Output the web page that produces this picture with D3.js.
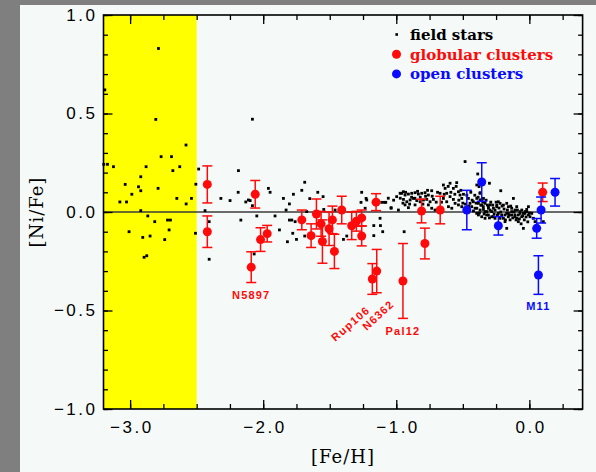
<!DOCTYPE html>
<html>
<head>
<meta charset="utf-8">
<script src="https://cdn.jsdelivr.net/npm/d3@7"></script>
<style>
  html, body { margin: 0; padding: 0; background: #7f7f7f; }
  svg { display: block; }
</style>
</head>
<body>
<svg id="chart" width="596" height="472"></svg>
<script>
// [Fe/H], [Ni/Fe] for individual field stars
const fieldStars = [
  [-3.19,0.62],[-2.787,0.83],[-2.807,0.47],[-2.58,0.34],[-3.17,0.242],[-3.198,0.242],[-3.125,0.23],
  [-2.767,0.281],[-2.689,0.281],[-2.679,0.21],[-2.627,0.23],[-2.88,0.23],[-2.92,0.179],[-3.037,0.14],
  [-2.937,0.128],[-2.92,0.108],[-2.79,0.12],[-2.987,0.09],[-3.077,0.051],[-3.027,0.051],[-2.649,0.069],
  [-2.579,0.041],[-2.539,0.069],[-2.92,0.007],[-2.867,-0.02],[-2.815,-0.049],[-2.719,-0.041],[-2.697,-0.041],
  [-3.008,-0.1],[-2.707,-0.091],[-2.905,-0.129],[-2.85,-0.122],[-2.74,-0.14],[-2.895,-0.23],[-2.875,-0.222],
  [-2.485,0.218],[-2.506,0.141],[-2.509,-0.108],[-2.437,0.007],[-2.406,-0.049],[-2.406,-0.24],[-2.318,0.069],
  [-2.249,0.058],[-2.186,0.21],[-2.188,0.1],[-2.131,0.051],[-2.111,0.061],[-2.098,0.058],[-2.081,0.471],
  [-2.081,0.032],[-2.168,-0.041],[-2.048,-0.02],[-2.068,-0.213],[-1.961,0.12],[-1.948,0.1],[-1.911,-0.02],
  [-1.878,-0.091],[-1.848,0.069],[-1.773,0.09],[-1.803,0.041],[-1.828,0.01],[-1.803,-0.041],[-1.785,-0.041],
  [-1.76,-0.049],[-1.818,-0.151],[-1.778,-0.108],[-1.75,-0.139],
  [-1.71,0.11],[-1.688,0.151],[-1.65,0.068],[-1.59,0.1],[-1.55,0.078],[-1.673,0.002],[-1.545,0.013],
  [-1.46,0.01],[-1.688,-0.122],[-1.372,-0.122],[-1.397,-0.139],
  [-1.26,0.1],[-1.227,0.069],[-1.265,0.049],[-1.234,0.019],[-1.222,0.061],[-1.109,0.049],[-1.089,0.049],
  [-1.039,0.022],[-1.122,-0.032],[-1.169,-0.069],[-1.119,-0.069],[-1.102,-0.1],[-1.169,-0.12],
  [-1.079,0.049],[-1.039,0.019],[-0.984,0.01],[-1.02,0.06],[-0.997,0.078],[-0.971,0.095],[-0.947,0.103],[-1.06,0.07],
  [-0.959,0.095],[-0.934,0.086],[-0.909,0.091],[-0.884,0.095],[-0.859,0.098],[-0.834,0.091],[-0.809,0.095],
  [-0.784,0.098],[-0.759,0.086],[-0.734,0.108],[-0.946,0.064],[-0.921,0.052],[-0.896,0.061],[-0.871,0.069],
  [-0.846,0.058],[-0.821,0.052],[-0.796,0.061],[-0.771,0.064],[-0.746,0.052],[-0.721,0.064],[-0.934,0.036],
  [-0.909,0.022],[-0.859,0.036],[-0.759,0.036],[-0.734,0.019],[-0.709,0.01],[-0.941,-0.1],
  [-0.671,0.095],[-0.646,0.137],[-0.633,0.12],[-0.621,0.095],[-0.596,0.146],[-0.571,0.12],[-0.546,0.149],
  [-0.533,0.103],[-0.521,0.086],[-0.508,0.069],[-0.646,0.069],[-0.621,0.052],[-0.596,0.078],[-0.571,0.064],
  [-0.558,0.044],[-0.533,0.036],[-0.508,0.027],[-0.608,0.027],[-0.583,0.019],[-0.483,0.256],
  [-0.458,0.069],[-0.446,0.044],[-0.433,0.027],[-0.421,0.052],[-0.408,0.019],[-0.396,-0.007],[-0.388,0.193],
  [-0.371,0.095],[-0.358,0.061],[-0.346,0.027],[-0.333,0.002],[-0.321,-0.015],[-0.308,0.019],[-0.295,0.036],
  [-0.3,0.146],[-0.283,0.002],[-0.27,-0.024],[-0.258,0.01],[-0.245,0.027],[-0.233,-0.007],[-0.22,-0.032],
  [-0.215,0.108],[-0.208,-0.015],[-0.195,-0.032],[-0.183,-0.049],[-0.17,-0.007],[-0.158,-0.024],[-0.145,-0.04],
  [-0.133,0.002],[-0.12,0.069],[-0.108,-0.015],[-0.095,-0.032],[-0.083,-0.049],[-0.07,-0.007],[-0.058,-0.024],
  [-0.045,-0.083],[-0.033,-0.007],[-0.02,0.002],[-0.007,-0.015],[0.005,-0.024],[0.018,-0.007],[0.03,-0.032],
  [0.043,-0.049],[0.105,-0.049],
  [-0.395,0.069],[-0.37,0.061],[-0.345,0.069],[-0.383,0.044],[-0.358,0.035],[-0.333,0.044],[-0.308,0.027],
  [-0.395,0.019],[-0.37,0.01],[-0.345,0.013],[-0.32,0.002],[-0.295,0.01],[-0.27,0.019],[-0.245,0.035],
  [-0.22,0.044],[-0.233,0.052],[-0.195,0.035],[-0.17,0.044],[-0.158,0.027],[-0.133,0.019],[-0.108,0.01],
  [-0.095,0.027],[-0.07,0.002],[-0.057,0.01],[-0.045,-0.007],[-0.032,0.002],[-0.02,0.013],[-0.007,0.027],
  [-0.383,-0.015],[-0.358,-0.024],[-0.333,-0.032],[-0.308,-0.015],[-0.283,-0.024],[-0.258,-0.032],
  [-0.183,-0.015],[-0.158,-0.007],[-0.133,-0.015],[-0.108,-0.024],[-0.083,-0.015],[-0.17,-0.083],
  [-0.395,0.137],[-0.378,0.129],[-0.37,0.098],
  [-0.48,0.04],[-0.47,0.085],[-0.455,0.03],[-0.44,0.1],[-0.43,0.06],[-0.42,0.005],[-0.41,0.085],[-0.4,0.045],
  [-0.385,0.075],[-0.375,-0.005],[-0.365,0.035],[-0.35,0.05],[-0.34,-0.01],[-0.325,0.06],[-0.315,0.035],
  [-0.3,-0.03],[-0.29,0.05],[-0.275,0.035],[-0.265,-0.01],[-0.25,0.05],[-0.24,-0.015],[-0.228,0.02],
  [-0.215,0.0],[-0.205,0.03],[-0.19,0.015],[-0.18,-0.04],[-0.165,0.01],[-0.15,-0.015],[-0.14,0.03],
  [-0.125,-0.03],[-0.115,0.0],[-0.1,-0.04],[-0.09,0.01],[-0.075,-0.035],[-0.062,-0.06],[-0.05,-0.02],
  [-0.038,-0.04],[-0.025,-0.025],[-0.012,-0.05],[0.0,-0.005],
  [-0.97,0.07],[-0.95,0.045],[-0.93,0.1],[-0.9,0.04],[-0.885,0.075],[-0.86,0.07],[-0.84,0.105],[-0.82,0.075],
  [-0.8,0.04],[-0.78,0.08],[-0.765,0.11],[-0.73,0.08],[-0.7,0.05],[-0.69,0.1],[-0.66,0.05],[-0.64,0.09],
  [-0.61,0.13],[-0.59,0.1],[-0.56,0.09],[-0.55,0.13],[-0.53,0.06],[-0.515,0.11],[-0.5,0.045],[-0.495,0.09]
];

// Globular clusters: [Fe/H], [Ni/Fe] and its error
const gcFeH  = [-2.42,-2.42,-2.06,-2.09,-2.02,-1.97,-1.71,-1.60,-1.64,-1.565,-1.555,-1.505,-1.48,-1.465,-1.41,-1.335,-1.30,-1.26,-1.26,-1.152,-1.18,-1.147,-0.95,-0.785,-0.81,-0.67,0.10];
const gcNiFe = [0.14,-0.10,0.09,-0.28,-0.14,-0.11,-0.04,-0.01,-0.12,-0.06,-0.15,-0.085,-0.04,-0.20,0.01,-0.07,-0.047,-0.03,-0.122,0.05,-0.34,-0.30,-0.35,-0.16,0.005,0.01,0.10];
const gcErr  = [0.094,0.08,0.07,0.078,0.06,0.042,0.05,0.076,0.06,0.063,0.11,0.085,0.07,0.087,0.07,0.07,0.05,0.04,0.05,0.043,0.078,0.11,0.19,0.078,0.06,0.07,0.047];

// Open clusters: [Fe/H], [Ni/Fe] and its error
const ocFeH  = [-0.47,-0.358,-0.233,0.055,0.088,0.068,0.193];
const ocNiFe = [0.01,0.152,-0.07,-0.083,0.01,-0.32,0.10];
const ocErr  = [0.10,0.098,0.047,0.05,0.066,0.098,0.07];

// Named clusters: [index into the cluster arrays, name]
const gcNames = [[3,"N5897"],[20,"Rup106"],[21,"N6362"],[22,"Pal12"]];
const ocNames = [[5,"M11"]];

const xMajorTicks = [-3, -2, -1, 0];
const yMajorTicks = [-1, -0.5, 0, 0.5, 1];
const legendItems = ["field stars", "globular clusters", "open clusters"];

const RED = "#ff0a0a", BLUE = "#0a0aff";

const svg = d3.select("#chart");
const x = d3.scaleLinear().domain([-3.2, 0.4]).range([103.5, 582.6]);
const y = d3.scaleLinear().domain([-1, 1]).range([409, 15]);

// light panel on the grey surround
svg.append("rect").attr("x", 20).attr("y", 5).attr("width", 576).attr("height", 467).attr("fill", "#f5faf8");

// extremely metal-poor band
svg.append("rect")
  .attr("x", x(-3.2)).attr("y", y(1))
  .attr("width", x(-2.5) - x(-3.2)).attr("height", y(-1) - y(1))
  .attr("fill", "#ffff00");

// solar ratio reference line
svg.append("line")
  .attr("x1", x(-3.2)).attr("x2", x(0.4)).attr("y1", y(0)).attr("y2", y(0))
  .attr("stroke", "#3a3a3a").attr("stroke-width", 1.6);

// field stars
svg.append("g").selectAll("rect").data(fieldStars).join("rect")
  .attr("x", d => x(d[0]) - 1.4).attr("y", d => y(d[1]) - 1.4)
  .attr("width", 2.8).attr("height", 2.8).attr("fill", "#000");

function clusters(feh, nife, err, color) {
  const data = feh.map((f, i) => ({ f, v: nife[i], e: err[i] }));
  const g = svg.append("g").attr("stroke", color).attr("stroke-width", 1.5);
  const bars = g.selectAll("g").data(data).join("g");
  bars.append("line")
    .attr("x1", d => x(d.f)).attr("x2", d => x(d.f))
    .attr("y1", d => y(d.v + d.e)).attr("y2", d => y(d.v - d.e));
  bars.append("line")
    .attr("x1", d => x(d.f) - 5).attr("x2", d => x(d.f) + 5)
    .attr("y1", d => y(d.v + d.e)).attr("y2", d => y(d.v + d.e));
  bars.append("line")
    .attr("x1", d => x(d.f) - 5).attr("x2", d => x(d.f) + 5)
    .attr("y1", d => y(d.v - d.e)).attr("y2", d => y(d.v - d.e));
  svg.append("g").selectAll("circle").data(data).join("circle")
    .attr("cx", d => x(d.f)).attr("cy", d => y(d.v)).attr("r", 4.5).attr("fill", color);
}
clusters(gcFeH, gcNiFe, gcErr, RED);
clusters(ocFeH, ocNiFe, ocErr, BLUE);

// cluster name labels, placed relative to their points
const labelFont = { "font-family": "'Liberation Sans', Arial, sans-serif", "font-size": "11px", "font-weight": "bold", "letter-spacing": "1.2px" };
const labelPlace = {
  "N5897":  { dx: 0,   dy: 32, rot: 0,   anchor: "middle" },
  "Rup106": { dx: -37, dy: 63, rot: -41, anchor: "start" },
  "N6362":  { dx: -10, dy: 60, rot: -43, anchor: "start" },
  "Pal12":  { dx: 0,   dy: 54, rot: 0,   anchor: "middle" },
  "M11":    { dx: 0,   dy: 35, rot: 0,   anchor: "middle" }
};
function nameLabels(list, feh, nife, color) {
  list.forEach(([i, name]) => {
    const p = labelPlace[name];
    const t = svg.append("text")
      .attr("transform", `translate(${x(feh[i]) + p.dx},${y(nife[i]) + p.dy}) rotate(${p.rot})`)
      .attr("text-anchor", p.anchor).attr("fill", color).text(name);
    Object.entries(labelFont).forEach(([k, v]) => t.attr(k, v));
  });
}
nameLabels(gcNames, gcFeH, gcNiFe, RED);
nameLabels(ocNames, ocFeH, ocNiFe, BLUE);

// axes: minor and major ticks on all four sides, pointing inward
const fmt = d3.format(".1f");
const xMinor = d3.range(-3, 0.4, 0.25);
const yMinor = d3.range(-10, 11).map(k => k / 10);
function styleAxis(g) {
  g.select(".domain").remove();
  g.selectAll("line").attr("stroke", "#000").attr("stroke-width", 1.3);
  g.attr("font-family", "'Liberation Sans', Arial, sans-serif").attr("font-size", 17);
  g.selectAll("text").attr("fill", "#000").attr("letter-spacing", "2.5px");
}
svg.append("g").attr("transform", "translate(0,409)")
  .call(d3.axisBottom(x).tickValues(xMinor).tickSize(-5).tickFormat("")).call(styleAxis);
svg.append("g").attr("transform", "translate(0,409)")
  .call(d3.axisBottom(x).tickValues(xMajorTicks).tickSize(-9).tickPadding(12).tickFormat(fmt))
  .call(styleAxis).call(g => g.selectAll("text").attr("dx", "1.25"));
svg.append("g").attr("transform", "translate(0,15)")
  .call(d3.axisTop(x).tickValues(xMinor).tickSize(-5).tickFormat("")).call(styleAxis);
svg.append("g").attr("transform", "translate(0,15)")
  .call(d3.axisTop(x).tickValues(xMajorTicks).tickSize(-9).tickFormat("")).call(styleAxis);
svg.append("g").attr("transform", "translate(103.5,0)")
  .call(d3.axisLeft(y).tickValues(yMinor).tickSize(-4.5).tickFormat("")).call(styleAxis);
svg.append("g").attr("transform", "translate(103.5,0)")
  .call(d3.axisLeft(y).tickValues(yMajorTicks).tickSize(-9).tickPadding(6).tickFormat(fmt)).call(styleAxis);
svg.append("g").attr("transform", "translate(582.6,0)")
  .call(d3.axisRight(y).tickValues(yMinor).tickSize(-4.5).tickFormat("")).call(styleAxis);
svg.append("g").attr("transform", "translate(582.6,0)")
  .call(d3.axisRight(y).tickValues(yMajorTicks).tickSize(-9).tickFormat("")).call(styleAxis);

// plot frame
svg.append("rect")
  .attr("x", x(-3.2)).attr("y", y(1))
  .attr("width", x(0.4) - x(-3.2)).attr("height", y(-1) - y(1))
  .attr("fill", "none").attr("stroke", "#000").attr("stroke-width", 1.6);

// axis titles
svg.append("text").attr("x", 343).attr("y", 463).attr("text-anchor", "middle")
  .attr("font-family", "'DejaVu Serif', serif").attr("font-size", 18).attr("letter-spacing", "1px")
  .attr("fill", "#000").text("[Fe/H]");
svg.append("text").attr("transform", "translate(43,212) rotate(-90)").attr("text-anchor", "middle")
  .attr("font-family", "'DejaVu Serif', serif").attr("font-size", 18).attr("letter-spacing", "1px")
  .attr("fill", "#000").text("[Ni/Fe]");

// legend
const legend = svg.append("g");
const legendColors = ["#000", RED, BLUE];
legendItems.forEach((label, i) => {
  const cy = 34.5 + i * 19.7;
  if (i === 0) {
    legend.append("rect").attr("x", 395.4).attr("y", cy - 1.3).attr("width", 2.6).attr("height", 2.6).attr("fill", "#000");
  } else {
    legend.append("circle").attr("cx", 396.5).attr("cy", cy).attr("r", 4.5).attr("fill", legendColors[i]);
  }
  legend.append("text").attr("x", 410).attr("y", cy + 5.3)
    .attr("font-family", "'DejaVu Serif', serif").attr("font-weight", "bold").attr("font-size", 15)
    .attr("fill", legendColors[i]).text(label);
});
</script>
</body>
</html>
